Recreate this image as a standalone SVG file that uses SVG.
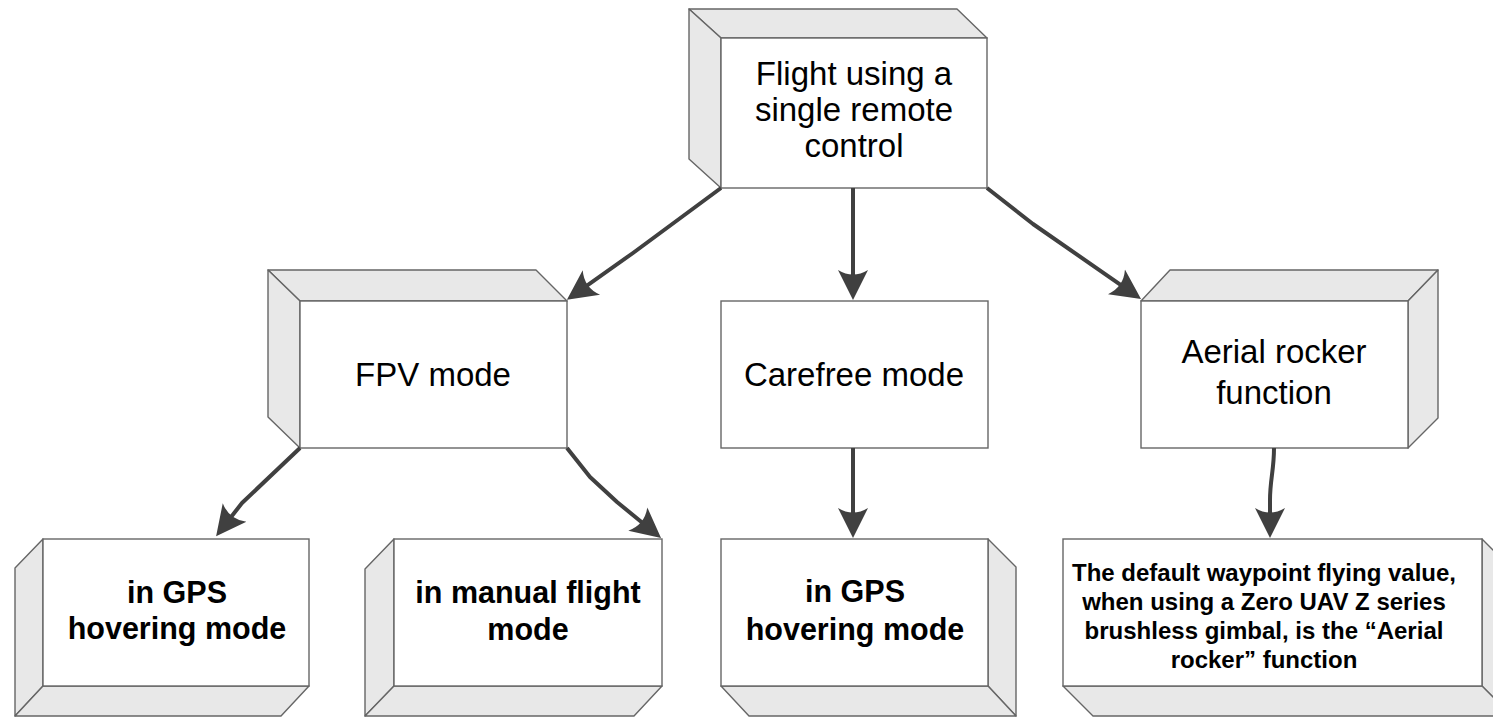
<svg xmlns="http://www.w3.org/2000/svg" width="1493" height="718" viewBox="0 0 1493 718">
<style>
.front{fill:#ffffff;stroke:#666666;stroke-width:1.4}
.side{fill:#e8e8e8;stroke:#666666;stroke-width:1.4;stroke-linejoin:round}
.t{font-family:"Liberation Sans",Arial,sans-serif;font-size:33px;fill:#000;text-anchor:middle}
.tb{font-family:"Liberation Sans",Arial,sans-serif;font-size:30.5px;font-weight:bold;fill:#000;text-anchor:middle}
.ts{font-family:"Liberation Sans",Arial,sans-serif;font-size:24px;font-weight:bold;fill:#000;text-anchor:middle}
.c{fill:none;stroke:#404040;stroke-width:4;stroke-linejoin:round;marker-end:url(#ah)}
</style>
<defs>
<marker id="ah" markerUnits="userSpaceOnUse" viewBox="0 -16 32 32" markerWidth="32" markerHeight="32" refX="24" refY="0" orient="auto">
<path d="M30,0 L0,-15 Q9,0 0,15 Z" fill="#404040"/>
</marker>
</defs>
<g id="n-top">
<polygon class="side" points="689,9 957,9 987,38 721,38"/>
<polygon class="side" points="689,9 721,38 721,188 689,159"/>
<rect class="front" x="721" y="38" width="266" height="150"/>
<text class="t" x="854" y="85">Flight using a</text>
<text class="t" x="854" y="121">single remote</text>
<text class="t" x="854" y="157">control</text>
</g>
<g id="n-fpv">
<polygon class="side" points="268,270 536,270 567,301 300,301"/>
<polygon class="side" points="268,270 300,301 300,448 268,417"/>
<rect class="front" x="300" y="301" width="267" height="147"/>
<text class="t" x="433" y="386">FPV mode</text>
</g>
<g id="n-carefree">
<rect class="front" x="721" y="301" width="267" height="147"/>
<text class="t" x="854" y="386">Carefree mode</text>
</g>
<g id="n-aerial">
<polygon class="side" points="1141,301 1170,270 1438,270 1408,301"/>
<polygon class="side" points="1408,301 1438,270 1438,418 1408,448"/>
<rect class="front" x="1141" y="301" width="267" height="147"/>
<text class="t" x="1274" y="363">Aerial rocker</text>
<text class="t" x="1274" y="404">function</text>
</g>
<g id="n-gps1">
<polygon class="side" points="43,539 15,568 15,716 43,686"/>
<polygon class="side" points="43,686 309,686 281,716 15,716"/>
<rect class="front" x="43" y="539" width="266" height="147"/>
<text class="tb" x="177" y="603">in GPS</text>
<text class="tb" x="177" y="639">hovering mode</text>
</g>
<g id="n-manual">
<polygon class="side" points="394,539 365,569 365,716 394,686"/>
<polygon class="side" points="394,686 662,686 634,716 365,716"/>
<rect class="front" x="394" y="539" width="268" height="147"/>
<text class="tb" x="528" y="603">in manual flight</text>
<text class="tb" x="528" y="640">mode</text>
</g>
<g id="n-gps2">
<polygon class="side" points="988,539 1016,567 1016,716 988,686"/>
<polygon class="side" points="721,686 988,686 1016,716 749,716"/>
<rect class="front" x="721" y="539" width="267" height="147"/>
<text class="tb" x="855" y="602">in GPS</text>
<text class="tb" x="855" y="640">hovering mode</text>
</g>
<g id="n-default">
<polygon class="side" points="1482,539 1512,569 1512,716 1482,686"/>
<polygon class="side" points="1063,686 1482,686 1512,716 1093,716"/>
<rect class="front" x="1063" y="539" width="419" height="147"/>
<text class="ts" x="1264" y="581">The default waypoint flying value,</text>
<text class="ts" x="1264" y="610">when using a Zero UAV Z series</text>
<text class="ts" x="1264" y="639">brushless gimbal, is the “Aerial</text>
<text class="ts" x="1264" y="668">rocker” function</text>
</g>
<g id="connectors">
<path class="c" d="M721,188 L633,253 L571.8,296.4"/>
<path class="c" d="M853,188 L853,294"/>
<path class="c" d="M987,188 L1033,224 L1136.1,295.6"/>
<path class="c" d="M300,448 L242,503 L219.8,531.4"/>
<path class="c" d="M567,448 L590,477 L617,502 L656.4,534.2"/>
<path class="c" d="M853,448 L853,532"/>
<path class="c" d="M1274,448 C1274,470 1270,480 1270,500 L1270,532"/>
</g>
</svg>
